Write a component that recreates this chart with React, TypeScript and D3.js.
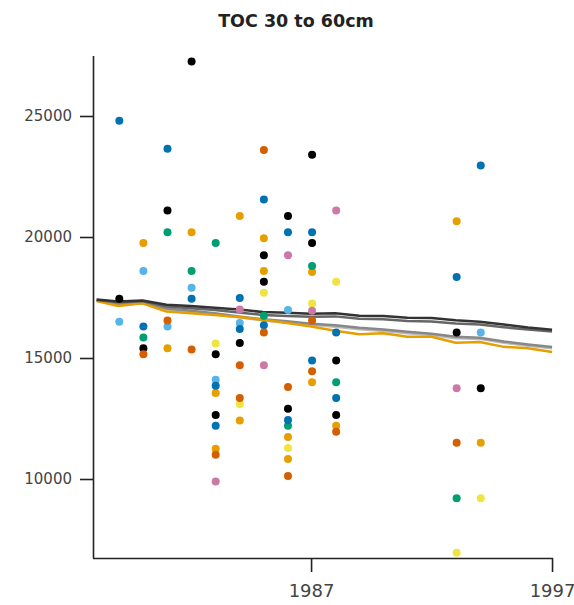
import React, { useEffect, useRef } from 'react';
import * as d3 from 'd3';

// observations per group, [year, value]
const blackObs = [[1979,17450],[1980,15400],[1981,21100],[1982,27250],[1983,15150],[1983,12650],[1984,15620],[1985,19250],[1985,18150],[1986,20870],[1986,12900],[1987,23400],[1987,19750],[1988,14900],[1988,12650],[1993,16050],[1994,13750]];
const orangeObs = [[1980,19750],[1981,15400],[1982,20200],[1983,13550],[1983,11250],[1984,20870],[1984,12420],[1985,19950],[1985,18600],[1986,11740],[1986,10830],[1987,18550],[1987,14000],[1988,12200],[1993,20650],[1994,11500]];
const skyblueObs = [[1979,16500],[1980,18600],[1981,16300],[1982,17900],[1983,14100],[1984,16450],[1986,16980],[1994,16050]];
const greenObs = [[1980,15850],[1981,20200],[1982,18600],[1983,19750],[1985,16750],[1986,12200],[1987,18800],[1988,14000],[1993,9200]];
const yellowObs = [[1983,15600],[1984,13100],[1985,17700],[1986,11280],[1987,17250],[1988,18150],[1993,6950],[1994,9200]];
const blueObs = [[1979,24800],[1980,16300],[1981,23650],[1982,17450],[1983,13850],[1983,12200],[1984,17480],[1984,16200],[1985,21550],[1985,16350],[1986,20200],[1986,12440],[1987,20200],[1987,14900],[1988,16050],[1988,13350],[1993,18350],[1994,22950]];
const vermillionObs = [[1980,15150],[1981,16550],[1982,15350],[1983,11000],[1984,14700],[1984,13350],[1985,23600],[1985,16050],[1986,13800],[1986,10120],[1987,16550],[1987,14450],[1988,11950],[1993,11500]];
const pinkObs = [[1983,9900],[1984,17000],[1985,14700],[1986,19250],[1987,16950],[1988,21100],[1993,13750]];

// fitted trend lines, one value per year
const trendYears = [1978.1,1979,1980,1981,1982,1983,1984,1985,1986,1987,1988,1989,1990,1991,1992,1993,1994,1995,1996,1997];
const trendDark = [17420,17330,17380,17200,17150,17080,17000,16900,16870,16830,16850,16750,16740,16660,16650,16560,16500,16380,16260,16170];
const trendDark2 = [17400,17300,17350,17130,17060,16980,16880,16780,16740,16700,16720,16620,16600,16530,16510,16430,16380,16270,16180,16100];
const trendGray = [17380,17220,17280,17050,16950,16850,16720,16600,16520,16420,16350,16250,16180,16080,16000,15880,15840,15680,15560,15450];
const trendLight = [17360,17190,17260,17010,16910,16800,16680,16550,16470,16370,16290,16190,16120,16020,15950,15820,15790,15630,15510,15400];
const trendOrange = [17350,17150,17260,16920,16850,16780,16690,16580,16450,16300,16130,15980,16020,15880,15880,15630,15660,15460,15400,15250];

const groups = [
  { obs: blackObs, color: '#000000' },
  { obs: orangeObs, color: '#E69F00' },
  { obs: skyblueObs, color: '#56B4E9' },
  { obs: greenObs, color: '#009E73' },
  { obs: yellowObs, color: '#F0E442' },
  { obs: blueObs, color: '#0072B2' },
  { obs: vermillionObs, color: '#D55E00' },
  { obs: pinkObs, color: '#CC79A7' },
];

const trends = [
  { values: trendLight, color: '#bbbbbb' },
  { values: trendGray, color: '#888888' },
  { values: trendOrange, color: '#E69F00' },
  { values: trendDark2, color: '#666666' },
  { values: trendDark, color: '#333333' },
];

const xTicks = [1987, 1997];
const yTicks = [10000, 15000, 20000, 25000];

const App = () => {
  const svgRef = useRef(null);

  useEffect(() => {
    const svg = d3.select(svgRef.current);
    svg.selectAll('*').remove();

    const x = d3.scaleLinear().domain([1977.95, 1997.04]).range([93, 553]);
    const y = d3.scaleLinear().domain([6736, 27479]).range([558, 56]);

    // title
    svg.append('text')
      .attr('x', 296)
      .attr('y', 27)
      .attr('text-anchor', 'middle')
      .style('font-family', 'DejaVu Sans')
      .style('font-weight', 'bold')
      .style('font-size', '17.5px')
      .style('fill', '#222')
      .text('TOC 30 to 60cm');

    // axes
    const yAxis = svg.append('g')
      .attr('transform', 'translate(93,0)')
      .call(d3.axisLeft(y).tickValues(yTicks).tickSize(13).tickPadding(8).tickFormat(d3.format('d')));
    const xAxis = svg.append('g')
      .attr('transform', 'translate(0,558)')
      .call(d3.axisBottom(x).tickValues(xTicks).tickSize(14).tickPadding(12).tickFormat(d3.format('d')));

    [yAxis, xAxis].forEach(a => {
      a.select('.domain').attr('stroke', '#222').attr('stroke-width', 1.6);
      a.selectAll('.tick line').attr('stroke', '#222').attr('stroke-width', 1.6);
      a.selectAll('.tick text')
        .style('font-family', 'DejaVu Sans')
        .style('fill', '#444');
    });
    yAxis.selectAll('.tick text').style('font-size', '15px');
    xAxis.selectAll('.tick text').style('font-size', '18px');
    yAxis.select('.domain').attr('d', 'M0.5,558V56');
    xAxis.select('.domain').attr('d', 'M93,0.5H553');

    // trend lines
    const line = d3.line()
      .x((d, i) => x(trendYears[i]))
      .y(d => y(d));
    svg.append('g')
      .selectAll('path')
      .data(trends)
      .enter()
      .append('path')
      .attr('d', d => line(d.values))
      .attr('fill', 'none')
      .attr('stroke', d => d.color)
      .attr('stroke-width', 2.5)
      .attr('stroke-linejoin', 'round');

    // observations
    groups.forEach(g => {
      svg.append('g')
        .selectAll('circle')
        .data(g.obs)
        .enter()
        .append('circle')
        .attr('cx', d => x(d[0]) + 1)
        .attr('cy', d => y(d[1]))
        .attr('r', 4)
        .attr('fill', g.color);
    });
  }, []);

  return (
    <svg ref={svgRef} width={574} height={605} style={{ position: 'absolute', left: 0, top: 0, background: '#fff' }} />
  );
};

export default App;
